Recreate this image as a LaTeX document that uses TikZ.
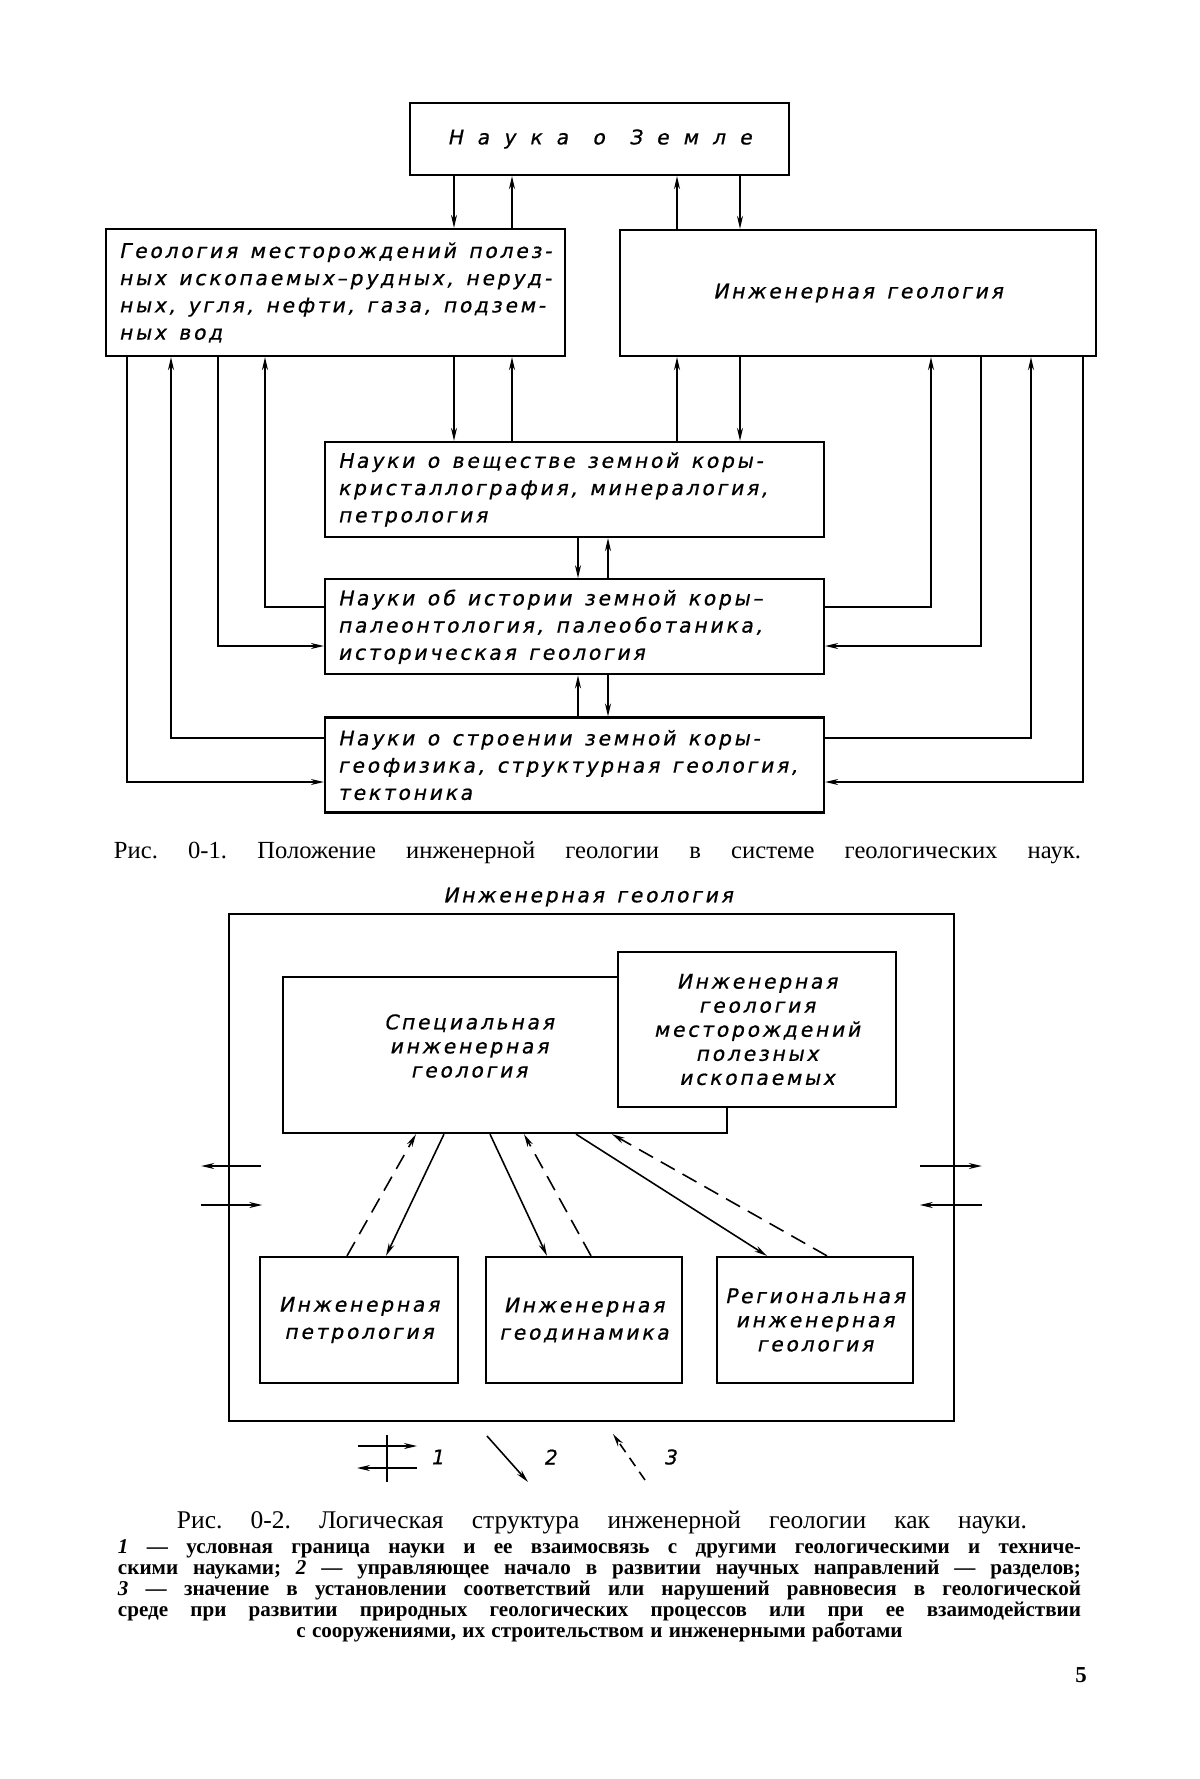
\documentclass[tikz,border=0pt]{standalone}
\usepackage{fontspec}
\setmainfont{Liberation Serif}
\newfontfamily\gostfont[FakeSlant=0.2,FakeBold=0.8,LetterSpace=14]{DejaVu Sans}
\usepackage{tikz}
\usetikzlibrary{positioning,calc,arrows.meta}

\begin{document}
\begin{tikzpicture}[
					x=0.2mm, y=-0.2mm,
					>={Stealth[length=2.6mm,width=1.2mm]}
					]
					\tikzset{
						gbox/.style={
							shape=rectangle,
							draw=black,
							line width=1.3pt,
							fill=white,
							inner xsep=2.6mm,
							inner ysep=0pt,
							font={\gostfont\fontsize{11.5}{15.5}\selectfont},
							execute at begin node={\spaceskip=0.62em plus 0.1em\relax}
						},
						gtext/.style={
							inner sep=0pt,
							align=center,
							font={\gostfont\fontsize{11.5}{13.7}\selectfont},
							execute at begin node={\spaceskip=0.62em plus 0.1em\relax}
						},
						gframe/.style={draw=black, line width=0.9pt},
						gedge/.style={draw=black, line width=0.9pt},
						gdash/.style={draw=black, line width=0.9pt, dash pattern=on 3.2mm off 1.8mm},
						capt/.style={inner sep=0pt, font={\frenchspacing\fontsize{14}{16}\selectfont}}
					}
					\useasboundingbox (0,0) rectangle (1200,1779);
					
					\node[gbox, minimum width=75.8mm, minimum height=14.4mm] (T) at (599.5,139)
						{\addfontfeature{LetterSpace=70}\spaceskip=1.2em\relax Наука о Земле};
					\node[gbox, minimum width=91.8mm, minimum height=25.4mm, text width=86.6mm, align=left] (L) at (335.5,292.5)
						{\mbox{Геология месторождений полез-}\\\mbox{ных ископаемых–рудных, неруд-}\\\mbox{ных, угля, нефти, газа, подзем-}\\ных вод};
					\node[gbox, minimum width=95.2mm, minimum height=25.2mm, align=center] (R) at (858,293)
						{Инженерная геология};
					\node[gbox, minimum width=99.8mm, minimum height=19mm, text width=94.6mm, align=left] (A) at (574.5,489.5)
						{\mbox{Науки о веществе земной коры-}\\\mbox{кристаллография, минералогия,}\\петрология};
					\node[gbox, minimum width=99.8mm, minimum height=19mm, text width=94.6mm, align=left, below=8mm of A] (B)
						{\mbox{Науки об истории земной коры–}\\\mbox{палеонтология, палеоботаника,}\\историческая геология};
					\node[gbox, minimum width=99.8mm, minimum height=19mm, text width=94.6mm, align=left, below=8.2mm of B] (C)
						{\mbox{Науки о строении земной коры-}\\\mbox{геофизика, структурная геология,}\\тектоника};
					
					\draw[gedge,->] (T.south -| 454,0) -- (L.north -| 454,0);
					\draw[gedge,->] (L.north -| 512,0) -- (T.south -| 512,0);
					\draw[gedge,->] (R.north -| 677,0) -- (T.south -| 677,0);
					\draw[gedge,->] (T.south -| 740,0) -- (R.north -| 740,0);
					\draw[gedge,->] (L.south -| 454,0) -- (A.north -| 454,0);
					\draw[gedge,->] (A.north -| 512,0) -- (L.south -| 512,0);
					\draw[gedge,->] (A.north -| 677,0) -- (R.south -| 677,0);
					\draw[gedge,->] (R.south -| 740,0) -- (A.north -| 740,0);
					\draw[gedge,->] (A.south -| 578,0) -- (B.north -| 578,0);
					\draw[gedge,->] (B.north -| 608,0) -- (A.south -| 608,0);
					\draw[gedge,->] (C.north -| 578,0) -- (B.south -| 578,0);
					\draw[gedge,->] (B.south -| 608,0) -- (C.north -| 608,0);
					
					\draw[gedge,->] (B.west |- 0,607) -| (L.south -| 265,0);
					\draw[gedge,->] (L.south -| 218,0) |- (B.west |- 0,646);
					\draw[gedge,->] (C.west |- 0,738) -| (L.south -| 171,0);
					\draw[gedge,->] (L.south -| 127,0) |- (C.west |- 0,782);
					\draw[gedge,->] (B.east |- 0,607) -| (R.south -| 931,0);
					\draw[gedge,->] (R.south -| 981,0) |- (B.east |- 0,646);
					\draw[gedge,->] (C.east |- 0,738) -| (R.south -| 1031,0);
					\draw[gedge,->] (R.south -| 1083,0) |- (C.east |- 0,782);
					
					\node[capt] (cap1) at (597.5,853)
						{\makebox[193.4mm][s]{Рис. 0-1. Положение инженерной геологии в системе геологических наук.}};
					
					\node[gtext] (title2) at (588,897) {Инженерная геология};
					\node[gframe, minimum width=145mm, minimum height=101.4mm] (O) at (591.5,1167.5) {};
					\node[gbox, minimum width=88.8mm, minimum height=31.2mm] (S) at (505,1055) {};
					\node[gtext] (stext) at (469,1046) {Специальная\\инженерная\\геология};
					\node[gbox, minimum width=55.6mm, minimum height=31mm, inner xsep=0pt, font={\gostfont\fontsize{11.5}{13.7}\selectfont}, align=center] (M) at (757,1029.5)
						{Инженерная\\геология\\месторождений\\полезных\\ископаемых};
					\node[gbox, minimum width=39.6mm, minimum height=25.2mm, inner xsep=0pt, font={\gostfont\fontsize{11.5}{15.5}\selectfont}, align=center] (P) at (359,1320)
						{Инженерная\\петрология};
					\node[gbox, minimum width=39.2mm, minimum height=25.2mm, inner xsep=0pt, font={\gostfont\fontsize{11.5}{15.5}\selectfont}, align=center] (G) at (584,1320)
						{Инженерная\\геодинамика};
					\node[gbox, minimum width=39.2mm, minimum height=25.2mm, inner xsep=0pt, font={\gostfont\fontsize{11.5}{13.7}\selectfont}, align=center] (RG) at (815,1320)
						{Региональная\\инженерная\\геология};
					
					\draw[gdash,->] (P.north -| 347,0) -- (S.south -| 416,0);
					\draw[gedge,->] (S.south -| 444,0) -- (P.north -| 386,0);
					\draw[gedge,->] (S.south -| 490,0) -- (G.north -| 547,0);
					\draw[gdash,->] (G.north -| 591,0) -- (S.south -| 524,0);
					\draw[gedge,->] (S.south -| 576,0) -- (RG.north -| 767,0);
					\draw[gdash,->] (RG.north -| 827,0) -- (S.south -| 612,0);
					
					\draw[gedge,->] (O.west |- 0,1166) ++(33,0) -- ++(-60,0);
					\draw[gedge,->] (O.west |- 0,1205) ++(-27,0) -- ++(61,0);
					\draw[gedge,->] (O.east |- 0,1166) ++(-35,0) -- ++(62,0);
					\draw[gedge,->] (O.east |- 0,1205) ++(27,0) -- ++(-62,0);
					
					\coordinate (k1) at (387,1435);
					\coordinate (k2) at (387,1482);
					\draw[gedge] (k1) -- (k2);
					\draw[gedge,->] (k1) ++(-29,11) -- ++(59,0);
					\draw[gedge,->] (k2) ++(30,-14) -- ++(-60,0);
					\node[gtext] (n1) at (437,1457) {1};
					\coordinate (k3) at (487,1436);
					\coordinate (k4) at (528,1482);
					\draw[gedge,->] (k3) -- (k4);
					\node[gtext] (n2) at (550,1457) {2};
					\coordinate (k5) at (645,1480);
					\coordinate (k6) at (613,1434);
					\draw[gedge,->, dash pattern=on 2mm off 1.4mm] (k5) -- (k6);
					\node[gtext] (n3) at (670,1457) {3};
					
					\node[capt, font={\frenchspacing\fontsize{14.5}{16}\selectfont}] (cap2) at (602,1523)
						{\makebox[170mm][s]{Рис. 0-2. Логическая структура инженерной геологии как науки.}};
					\node[inner sep=0pt, text width=192.6mm, align=left, font={\frenchspacing\bfseries\fontsize{12}{10.8}\selectfont},
						execute at begin node={\spaceskip=0.3em plus 3em\relax}] (legend) at (599.5,1591)
						{\makebox[192.6mm][s]{\textit{1} — условная граница науки и ее взаимосвязь с другими геологическими и техниче-}\\
						\makebox[192.6mm][s]{скими науками; \textit{2} — управляющее начало в развитии научных направлений — разделов;}\\
						\makebox[192.6mm][s]{\textit{3} — значение в установлении соответствий или нарушений равновесия в геологической}\\
						\makebox[192.6mm][s]{среде при развитии природных геологических процессов или при ее взаимодействии}\\
						\makebox[192.6mm][c]{с сооружениями, их строительством и инженерными работами}};
					\node[inner sep=0pt, font=\bfseries\fontsize{13}{15}\selectfont] (page) at (1081,1675) {5};
				\end{tikzpicture}
\end{document}
